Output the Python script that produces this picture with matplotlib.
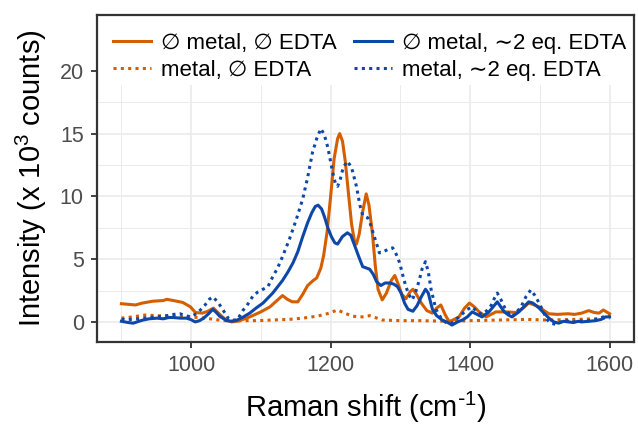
import matplotlib
matplotlib.use("Agg")
import matplotlib.pyplot as plt
from matplotlib.ticker import MultipleLocator

plt.rcParams['font.family'] = ['Liberation Sans', 'DejaVu Sans']
plt.rcParams['mathtext.default'] = 'regular'

# values (x in cm-1, y in 10^3 counts)
x_ns = [900, 910, 920, 930, 945, 960, 965, 975, 988, 999, 1006, 1016, 1024, 1032, 1041, 1050,
        1058, 1066, 1080, 1090, 1100, 1113, 1123, 1131, 1138, 1145, 1153, 1160, 1167, 1175, 1180,
        1186, 1190, 1195, 1200, 1205, 1210, 1213, 1217, 1221, 1226, 1230, 1234, 1237, 1241, 1246,
        1251, 1255, 1260, 1264, 1268, 1274, 1280, 1287, 1292, 1297, 1302, 1308, 1314, 1318, 1323,
        1330, 1338, 1346, 1352, 1358, 1364, 1370, 1377, 1384, 1392, 1399, 1406, 1413, 1423, 1430,
        1437, 1451, 1466, 1476, 1484, 1490, 1499, 1506, 1513, 1525, 1540, 1550, 1560, 1570, 1578,
        1585, 1591, 1597, 1600]
y_ns = [1.45, 1.4, 1.35, 1.5, 1.65, 1.7, 1.8, 1.7, 1.55, 1.2, 0.75, 0.7, 0.85, 1.1, 0.6, 0.15,
        0.0, 0.05, 0.3, 0.55, 0.8, 1.2, 1.7, 2.1, 1.8, 1.6, 1.6, 2.2, 2.9, 3.3, 3.5,
        4.3, 5.3, 7.2, 10.0, 13.0, 14.6, 15.0, 14.4, 12.8, 10.0, 7.8, 6.5, 6.2, 7.0, 8.8,
        10.2, 9.3, 7.0, 4.5, 2.6, 1.75, 2.3, 3.3, 3.7, 3.0, 2.2, 1.85, 2.4, 2.6, 2.2,
        1.5, 0.9, 0.7, 1.1, 1.35, 0.6, 0.0, 0.2, 0.4, 1.1, 1.5, 1.2, 0.8, 0.4, 0.6,
        0.8, 0.8, 0.75, 1.1, 1.5, 1.4, 1.2, 0.9, 0.65, 0.6, 0.65, 0.6, 0.7, 0.9, 0.75,
        0.7, 0.95, 0.75, 0.65]

x_ms = [900, 915, 935, 950, 970, 999, 1020, 1040, 1056, 1075, 1094, 1115, 1140, 1160, 1180,
        1195, 1210, 1220, 1232, 1245, 1256, 1264, 1274, 1300, 1330, 1370, 1400, 1440, 1480,
        1513, 1550, 1580, 1600]
y_ms = [0.3, 0.4, 0.55, 0.5, 0.45, 0.4, 0.3, 0.15, 0.05, 0.1, 0.1, 0.15, 0.2, 0.3, 0.45,
        0.65, 0.95, 0.7, 0.45, 0.4, 0.5, 0.35, 0.15, 0.1, 0.1, 0.05, 0.1, 0.15, 0.2,
        0.15, 0.2, 0.25, 0.3]

x_ne = [900, 910, 917, 925, 931, 940, 951, 960, 968, 974, 985, 993, 999, 1006, 1012, 1018,
        1025, 1031, 1036, 1041, 1051, 1058, 1066, 1075, 1084, 1093, 1103, 1110, 1117, 1124,
        1131, 1139, 1146, 1153, 1160, 1167, 1173, 1178, 1182, 1187, 1191, 1196, 1201, 1206,
        1210, 1217, 1224, 1229, 1235, 1241, 1246, 1251, 1256, 1261, 1266, 1272, 1278, 1285,
        1291, 1296, 1301, 1306, 1311, 1318, 1324, 1330, 1336, 1340, 1346, 1352, 1360, 1368,
        1374, 1382, 1389, 1396, 1403, 1410, 1417, 1427, 1433, 1439, 1444, 1449, 1455, 1460,
        1470, 1477, 1484, 1490, 1499, 1506, 1513, 1520, 1527, 1534, 1541, 1548, 1555, 1560,
        1570, 1580, 1588, 1594, 1600]
y_ne = [0.05, -0.05, -0.1, 0.05, 0.15, 0.25, 0.3, 0.25, 0.35, 0.35, 0.3, 0.3, 0.2, 0.0, 0.1, 0.3,
        0.65, 1.0, 0.75, 0.45, 0.1, 0.05, 0.15, 0.4, 0.7, 1.1, 1.5, 1.9, 2.3, 2.8,
        3.3, 4.0, 4.7, 5.6, 6.8, 7.9, 8.7, 9.2, 9.3, 9.0, 8.4, 7.5, 6.8, 6.3,
        6.2, 6.8, 7.1, 6.9, 6.0, 5.1, 4.4, 4.3, 4.2, 3.8, 3.2, 2.9, 3.1, 3.1,
        3.0, 2.8, 2.3, 1.5, 1.0, 0.85, 1.3, 2.0, 2.6, 2.3, 1.0, 0.5, 0.15, -0.05,
        -0.25, 0.0, 0.15, 0.4, 0.8, 0.6, 0.4, 0.8, 1.2, 1.6, 1.2, 0.8, 0.55, 0.4,
        0.8, 1.2, 1.6, 1.5, 1.1, 0.7, 0.3, 0.0, -0.1, 0.05, 0.0, -0.05, 0.05, 0.0,
        0.05, 0.1, 0.2, 0.4, 0.4]

x_me = [900, 915, 930, 951, 965, 975, 984, 992, 999, 1009, 1020, 1026, 1031, 1038, 1044, 1053,
        1060, 1066, 1074, 1080, 1089, 1096, 1103, 1110, 1117, 1124, 1131, 1141, 1151, 1160,
        1167, 1174, 1180, 1186, 1191, 1196, 1203, 1207, 1210, 1214, 1218, 1224, 1230, 1237,
        1242, 1246, 1253, 1257, 1262, 1270, 1276, 1283, 1289, 1294, 1299, 1304, 1308, 1312,
        1317, 1322, 1327, 1331, 1336, 1340, 1344, 1351, 1360, 1367, 1374, 1382, 1389, 1396,
        1403, 1410, 1417, 1424, 1430, 1435, 1439, 1444, 1449, 1455, 1460, 1467, 1473, 1480,
        1487, 1493, 1499, 1505, 1510, 1516, 1523, 1530, 1537, 1545, 1555, 1565, 1575, 1585,
        1595, 1600]
y_me = [0.2, 0.2, 0.3, 0.4, 0.5, 0.6, 0.65, 0.5, 0.4, 0.7, 1.35, 1.8, 2.0, 1.6, 1.1, 0.3,
        0.15, 0.15, 0.9, 1.3, 2.1, 2.4, 2.6, 2.8, 3.6, 4.3, 5.2, 6.6, 8.2, 9.8,
        11.5, 13.5, 14.6, 15.4, 14.9, 13.9, 11.9, 11.0, 10.8, 11.4, 12.3, 12.8, 12.3, 10.8,
        9.3, 8.5, 8.3, 7.8, 6.9, 5.5, 5.6, 5.8, 5.9, 5.4, 4.7, 3.6, 2.8, 2.2,
        1.75, 2.4, 3.3, 4.2, 4.8, 4.0, 2.6, 1.0, 0.15, -0.1, -0.1, 0.3, 0.65, 1.0,
        1.2, 0.8, 0.6, 0.9, 1.3, 1.9, 2.3, 1.8, 1.2, 0.7, 0.4, 0.8, 1.2, 2.0,
        2.55, 2.1, 1.5, 0.8, 0.2, -0.1, -0.2, 0.0, 0.15, -0.05, 0.1, 0.05, 0.15, 0.25,
        0.5, 0.45]

labels = ['\u2205 metal, \u2205 EDTA', 'metal, \u2205 EDTA',
          '\u2205 metal, \u223c2 eq. EDTA', 'metal, \u223c2 eq. EDTA']

orange = '#D55E00'
blue = '#0D47A8'
dot = (0, (1, 1.4))

fig = plt.figure(figsize=(6.38, 4.25), dpi=100)
ax = fig.add_axes([97 / 638, 83 / 425, 537 / 638, 327 / 425])

ax.plot(x_ns, y_ns, color=orange, lw=2.2, label=labels[0])
ax.plot(x_ms, y_ms, color=orange, lw=2.2, ls=dot, label=labels[1])
ax.plot(x_ne, y_ne, color=blue, lw=2.2, label=labels[2])
ax.plot(x_me, y_me, color=blue, lw=2.2, ls=dot, label=labels[3])

ax.set_xlim(865, 1635)
ax.set_ylim(-1.6, 24.45)
ax.xaxis.set_major_locator(MultipleLocator(200))
ax.xaxis.set_minor_locator(MultipleLocator(100))
ax.yaxis.set_major_locator(MultipleLocator(5))
ax.yaxis.set_minor_locator(MultipleLocator(2.5))

ax.set_axisbelow(True)
ax.grid(which='major', color='#EBEBEB', lw=1.2)
ax.grid(which='minor', color='#EBEBEB', lw=0.7)
# legend area covers the grid at the top of the panel
ax.axhspan(18.9, 24.45, color='white', zorder=1, lw=0)

for s in ax.spines.values():
    s.set_color('#333333')
    s.set_linewidth(1.6)
ax.tick_params(which='major', length=4.5, width=1.3, color='#333333',
               labelsize=15.5, labelcolor='#4D4D4D', pad=5)
ax.tick_params(which='minor', length=0)

ax.set_xlabel('Raman shift (cm$^{\\text{-}1}$)', fontsize=21)
ax.set_ylabel('Intensity (x 10$^{3}$ counts)', fontsize=21)
ax.xaxis.set_label_coords(0.5, -0.145)
ax.yaxis.set_label_coords(-0.09, 0.5)

ax.legend(ncol=2, loc='upper left', bbox_to_anchor=(0.03, 0.945), frameon=False,
          fontsize=16, handlelength=1.7, handletextpad=0.45, columnspacing=0.8,
          labelspacing=0.25, borderpad=0, borderaxespad=0)

fig.savefig('out.png', dpi=100)
